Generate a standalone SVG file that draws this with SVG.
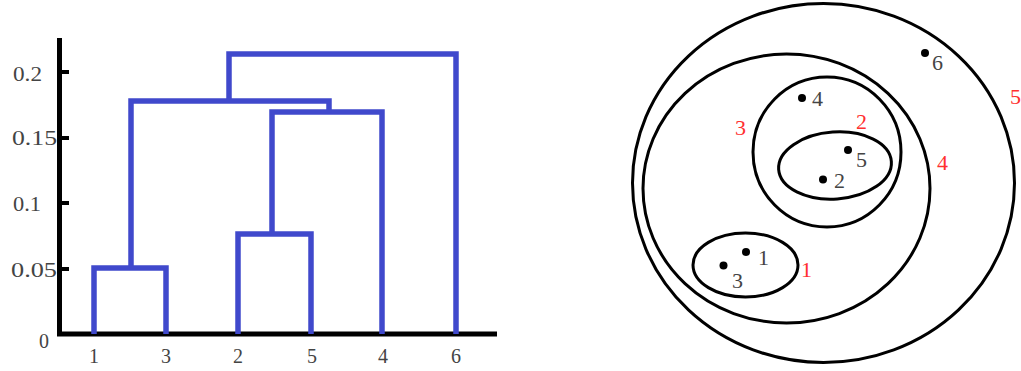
<svg xmlns="http://www.w3.org/2000/svg" width="1021" height="371" viewBox="0 0 1021 371">
<style>
.axis{fill:none;stroke:#000;stroke-width:5;stroke-linejoin:miter}
.tick{stroke:#000;stroke-width:4}
.link{fill:none;stroke:#4049cc;stroke-width:5.5;stroke-linejoin:miter;stroke-linecap:butt}
.lab{font-family:"Liberation Serif",serif;fill:#444}
.ylab{font-size:20px}
.xlab{font-size:20px;text-anchor:middle}
.set{fill:none;stroke:#000;stroke-width:3}
.pt{fill:#000}
.num{font-family:"Liberation Serif",serif;font-size:22px;fill:#444}
.red{font-family:"Liberation Serif",serif;font-size:22px;fill:#ff3030}
</style>
<rect width="1021" height="371" fill="#fff"/>
<g id="dendrogram">
  <g id="axes">
    <polyline class="axis" points="59.5,38 59.5,334 497,334"/>
    <line class="tick" x1="60" y1="72" x2="69" y2="72"/>
    <line class="tick" x1="60" y1="138" x2="69" y2="138"/>
    <line class="tick" x1="60" y1="203" x2="69" y2="203"/>
    <line class="tick" x1="60" y1="269" x2="69" y2="269"/>
    <text class="lab ylab" x="13" y="81" textLength="29" lengthAdjust="spacingAndGlyphs">0.2</text>
    <text class="lab ylab" x="12" y="145" textLength="45" lengthAdjust="spacingAndGlyphs">0.15</text>
    <text class="lab ylab" x="13" y="211" textLength="28" lengthAdjust="spacingAndGlyphs">0.1</text>
    <text class="lab ylab" x="11" y="277" textLength="46" lengthAdjust="spacingAndGlyphs">0.05</text>
    <text class="lab ylab" x="39" y="348">0</text>
    <text class="lab xlab" x="94" y="363">1</text>
    <text class="lab xlab" x="166" y="363">3</text>
    <text class="lab xlab" x="238" y="363">2</text>
    <text class="lab xlab" x="312" y="363">5</text>
    <text class="lab xlab" x="383" y="363">4</text>
    <text class="lab xlab" x="456" y="363">6</text>
  </g>
  <g id="links">
    <polyline class="link" points="94,334 94,268 166,268 166,334"/>
    <polyline class="link" points="238,334 238,234 311,234 311,334"/>
    <polyline class="link" points="272,234 272,112 382,112 382,334"/>
    <polyline class="link" points="131,268 131,101 329,101 329,112"/>
    <polyline class="link" points="229,101 229,54 456,54 456,334"/>
  </g>
</g>
<g id="nested-sets">
  <g id="set5"><ellipse class="set" cx="823.5" cy="183" rx="191" ry="179.5"/><text class="red" x="1010" y="104">5</text></g>
  <g id="set4"><ellipse class="set" cx="786.5" cy="188.5" rx="143.5" ry="134.5"/><text class="red" x="937" y="170">4</text></g>
  <g id="set3"><ellipse class="set" cx="827" cy="152" rx="74" ry="75"/><text class="red" x="735" y="135">3</text></g>
  <g id="set2"><ellipse class="set" cx="835" cy="165.5" rx="56.5" ry="33.5" transform="rotate(-4 835 165.5)"/><text class="red" x="856" y="129">2</text></g>
  <g id="set1"><ellipse class="set" cx="745.5" cy="265" rx="52.5" ry="32"/><text class="red" x="801" y="277">1</text></g>
  <g id="p6"><circle class="pt" cx="925" cy="53" r="4"/><text class="num" x="932" y="70">6</text></g>
  <g id="p4"><circle class="pt" cx="802" cy="98" r="4"/><text class="num" x="812" y="106">4</text></g>
  <g id="p5"><circle class="pt" cx="848" cy="150" r="4"/><text class="num" x="856" y="167">5</text></g>
  <g id="p2"><circle class="pt" cx="823" cy="179.5" r="4"/><text class="num" x="834" y="188">2</text></g>
  <g id="p1"><circle class="pt" cx="746" cy="252" r="4"/><text class="num" x="758" y="265">1</text></g>
  <g id="p3"><circle class="pt" cx="723.5" cy="265.5" r="4"/><text class="num" x="732" y="288">3</text></g>
</g>
</svg>
